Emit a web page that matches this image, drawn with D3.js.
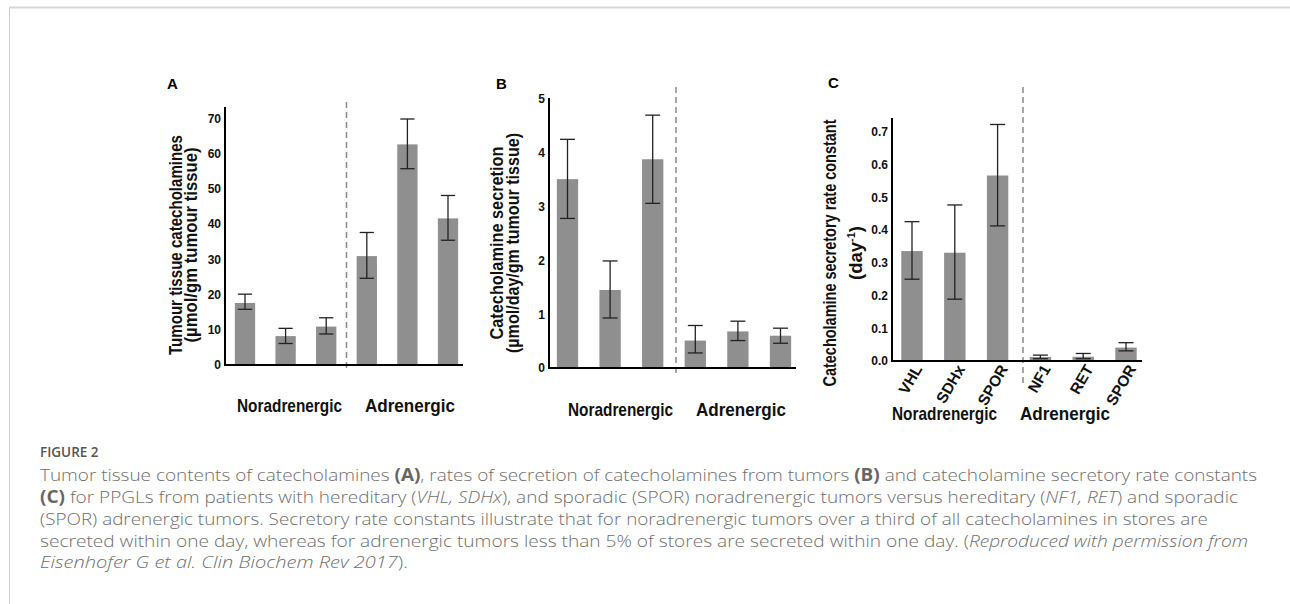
<!DOCTYPE html>
<html>
<head>
<meta charset="utf-8">
<script src="https://cdn.jsdelivr.net/npm/d3@7"></script>
<style>
  html, body { margin: 0; padding: 0; background: #fff; }
  svg { display: block; }
</style>
</head>
<body>
<svg id="chart" width="1290" height="604"></svg>
<script>
// ---------------- data ----------------
const tumorTypes = ["VHL", "SDHx", "SPOR", "NF1", "RET", "SPOR"];
const groupLabels = ["Noradrenergic", "Adrenergic"];

const tissueMean = [17.6, 8.2, 10.9, 30.9, 62.6, 41.6];
const tissueLow  = [15.8, 6.1, 8.8, 24.6, 55.7, 35.4];
const tissueHigh = [20.1, 10.4, 13.4, 37.6, 69.8, 48.1];
const tissueTicks = [0, 10, 20, 30, 40, 50, 60, 70];

const secretionMean = [3.51, 1.45, 3.88, 0.51, 0.68, 0.60];
const secretionLow  = [2.78, 0.93, 3.06, 0.28, 0.51, 0.46];
const secretionHigh = [4.25, 1.99, 4.70, 0.79, 0.87, 0.74];
const secretionTicks = [0, 1, 2, 3, 4, 5];

const rateMean = [0.336, 0.331, 0.567, 0.012, 0.013, 0.041];
const rateLow  = [0.250, 0.189, 0.413, 0.007, 0.007, 0.031];
const rateHigh = [0.426, 0.477, 0.723, 0.018, 0.023, 0.056];
const rateTicks = [0, 0.1, 0.2, 0.3, 0.4, 0.5, 0.6, 0.7];

// ---------------- styles ----------------
const NARROW = '"Liberation Sans Narrow","Arial Narrow","Liberation Sans",Arial,sans-serif';
const SANS = '"Liberation Sans",Arial,sans-serif';
const BAR = "#8f8f8f";
const ERR = "#222";

const svg = d3.select("#chart");

// frame
svg.append("line").attr("x1", 9).attr("x2", 1290).attr("y1", 7.5).attr("y2", 7.5)
  .attr("stroke", "#d6d6d6").attr("stroke-width", 2);
svg.append("line").attr("x1", 9.5).attr("x2", 9.5).attr("y1", 7).attr("y2", 604)
  .attr("stroke", "#cfcfcf").attr("stroke-width", 1);

function panel(cfg) {
  const g = svg.append("g");
  const idx = d3.range(tumorTypes.length);
  const x = d3.scaleBand().domain(idx).range(cfg.xRange).paddingInner(0.5).paddingOuter(0.25);
  const y = d3.scaleLinear().domain(cfg.yDomain).range(cfg.yRange);

  // dashed divider between groups
  const divX = (x(2) + x.bandwidth() + x(3)) / 2 + cfg.divOffset;
  g.append("line").attr("x1", divX).attr("x2", divX)
    .attr("y1", cfg.divY[0]).attr("y2", cfg.divY[1])
    .attr("stroke", "#8a8a8a").attr("stroke-width", 1.5).attr("stroke-dasharray", "6,4");

  // bars
  g.selectAll("rect.bar").data(idx).join("rect")
    .attr("x", i => x(i)).attr("width", x.bandwidth())
    .attr("y", i => y(cfg.mean[i])).attr("height", i => y(0) - y(cfg.mean[i]))
    .attr("fill", BAR);

  // error bars
  const capW = x.bandwidth() * 0.7;
  const eb = g.selectAll("g.err").data(idx).join("g");
  eb.append("line")
    .attr("x1", i => x(i) + x.bandwidth() / 2).attr("x2", i => x(i) + x.bandwidth() / 2)
    .attr("y1", i => y(cfg.low[i])).attr("y2", i => y(cfg.high[i]))
    .attr("stroke", ERR).attr("stroke-width", 1.3);
  [cfg.low, cfg.high].forEach(arr => {
    eb.append("line")
      .attr("x1", i => x(i) + x.bandwidth() / 2 - capW / 2)
      .attr("x2", i => x(i) + x.bandwidth() / 2 + capW / 2)
      .attr("y1", i => y(arr[i])).attr("y2", i => y(arr[i]))
      .attr("stroke", ERR).attr("stroke-width", 1.3);
  });

  // y axis (no tick marks)
  const yAxis = d3.axisLeft(y).tickValues(cfg.ticks).tickSize(0).tickPadding(4)
    .tickFormat(cfg.fmt);
  const ya = g.append("g").attr("transform", `translate(${cfg.axisX},0)`).call(yAxis);
  ya.select(".domain").remove();
  ya.selectAll("text").attr("font-family", NARROW).attr("font-weight", "bold")
    .attr("font-size", 12).attr("fill", "#111");
  g.append("line").attr("x1", cfg.axisX).attr("x2", cfg.axisX)
    .attr("y1", cfg.axisTop).attr("y2", y(0) + 1)
    .attr("stroke", "#000").attr("stroke-width", 2);
  g.append("line").attr("x1", cfg.axisX).attr("x2", cfg.axisRight)
    .attr("y1", y(0)).attr("y2", y(0))
    .attr("stroke", "#000").attr("stroke-width", 2);

  // category tick labels (panel C only)
  if (cfg.showCats) {
    g.selectAll("text.cat").data(idx).join("text")
      .attr("transform", i => `translate(${x(i) + x.bandwidth() / 2 + 6},${y(0) + 5}) rotate(-60)`)
      .attr("text-anchor", "end").attr("dy", "0.35em")
      .attr("font-family", NARROW).attr("font-weight", "bold").attr("font-size", 15.5)
      .attr("fill", "#111")
      .text(i => tumorTypes[i]);
  }

  // group labels
  g.append("text").attr("x", cfg.groupX).attr("y", cfg.groupY)
    .attr("font-family", NARROW).attr("font-weight", "bold").attr("font-size", 18.5)
    .attr("fill", "#111").attr("textLength", 105).attr("lengthAdjust", "spacingAndGlyphs")
    .text(groupLabels[0]);
  g.append("text").attr("x", cfg.groupX + 128).attr("y", cfg.groupY)
    .attr("font-family", NARROW).attr("font-weight", "bold").attr("font-size", 18.5)
    .attr("fill", "#111").attr("textLength", 90).attr("lengthAdjust", "spacingAndGlyphs")
    .text(groupLabels[1]);

  // y titles
  cfg.titles.forEach(t => {
    const tx = g.append("text")
      .attr("transform", `translate(${t.x},${cfg.titleY}) rotate(-90)`)
      .attr("text-anchor", "middle")
      .attr("font-family", NARROW).attr("font-weight", "bold").attr("font-size", 18.5)
      .attr("fill", "#111");
    if (t.len) tx.attr("textLength", t.len).attr("lengthAdjust", "spacingAndGlyphs");
    if (t.sup) {
      tx.append("tspan").text(t.text);
      tx.append("tspan").attr("font-size", 11).attr("dy", -7).text(t.sup);
      tx.append("tspan").attr("dy", 7).text(t.after);
    } else {
      tx.text(t.text);
    }
  });

  // panel letter
  g.append("text").attr("x", cfg.letterX).attr("y", cfg.letterY)
    .attr("font-family", SANS).attr("font-weight", "bold").attr("font-size", 15)
    .attr("fill", "#000").text(cfg.letter);
}

panel({
  letter: "A", letterX: 167, letterY: 89,
  mean: tissueMean, low: tissueLow, high: tissueHigh, ticks: tissueTicks,
  fmt: d3.format("d"),
  xRange: [224.7, 468.3], yDomain: [0, 70], yRange: [365, 118.3],
  axisX: 225, axisTop: 107, axisRight: 463,
  divY: [102, 372], divOffset: 0,
  groupX: 237, groupY: 412,
  titleY: 245,
  titles: [
    { x: 182, text: "Tumour tissue catecholamines", len: 220 },
    { x: 197, text: "(µmol/gm tumour tissue)", len: 195 }
  ]
});

panel({
  letter: "B", letterX: 496, letterY: 89,
  mean: secretionMean, low: secretionLow, high: secretionHigh, ticks: secretionTicks,
  fmt: d3.format("d"),
  xRange: [546.2, 801.8], yDomain: [0, 5], yRange: [368, 99],
  axisX: 549, axisTop: 98, axisRight: 796,
  divY: [87, 373], divOffset: 2,
  groupX: 568, groupY: 416,
  titleY: 243,
  titles: [
    { x: 503, text: "Catecholamine  secretion", len: 193 },
    { x: 519, text: "(µmol/day/gm tumour tissue)", len: 220 }
  ]
});

panel({
  letter: "C", letterX: 828, letterY: 88,
  mean: rateMean, low: rateLow, high: rateHigh, ticks: rateTicks,
  fmt: d3.format(".1f"),
  xRange: [890.6, 1147.4], yDomain: [0, 0.7], yRange: [361, 132],
  axisX: 892, axisTop: 118, axisRight: 1142,
  divY: [87, 387], divOffset: 4,
  groupX: 892, groupY: 420,
  titleY: 253,
  titles: [
    { x: 836, text: "Catecholamine secretory rate constant", len: 267 },
    { x: 862, text: "(day", sup: "-1", after: ")" }
  ],
  showCats: true
});

// ---------------- caption ----------------
const CAP = '"Open Sans","Noto Sans",sans-serif';
svg.append("text").attr("x", 40).attr("y", 457)
  .attr("font-family", CAP).attr("font-weight", 600).attr("font-size", 13.5)
  .attr("fill", "#555").text("FIGURE 2");

const captionLines = [
  [["Tumor tissue contents of catecholamines ", ""], ["(A)", "b"], [", rates of secretion of catecholamines from tumors ", ""], ["(B)", "b"], [" and catecholamine secretory rate constants", ""]],
  [["(C)", "b"], [" for PPGLs from patients with hereditary (", ""], ["VHL, SDHx", "i"], ["), and sporadic (SPOR) noradrenergic tumors versus hereditary (", ""], ["NF1, RET", "i"], [") and sporadic", ""]],
  [["(SPOR) adrenergic tumors. Secretory rate constants illustrate that for noradrenergic tumors over a third of all catecholamines in stores are", ""]],
  [["secreted within one day, whereas for adrenergic tumors less than 5% of stores are secreted within one day. (", ""], ["Reproduced with permission from", "i"]],
  [["Eisenhofer G et al. Clin Biochem Rev 2017", "i"], [").", ""]]
];
const captionY = [481, 503, 525, 547, 568];
const captionLen = [1217, 1198, 1168, 1208, 368];

captionLines.forEach((parts, li) => {
  const t = svg.append("text").attr("x", 40).attr("y", captionY[li])
    .attr("font-family", CAP).attr("font-size", 17).attr("font-weight", 300).attr("fill", "#6e6e6e")
    .attr("textLength", captionLen[li]).attr("lengthAdjust", "spacingAndGlyphs")
    .style("white-space", "pre");
  parts.forEach(([s, st]) => {
    const ts = t.append("tspan").text(s);
    if (st === "b") ts.attr("font-weight", 700).attr("fill", "#666");
    if (st === "i") ts.attr("font-style", "italic");
  });
});
</script>
</body>
</html>
